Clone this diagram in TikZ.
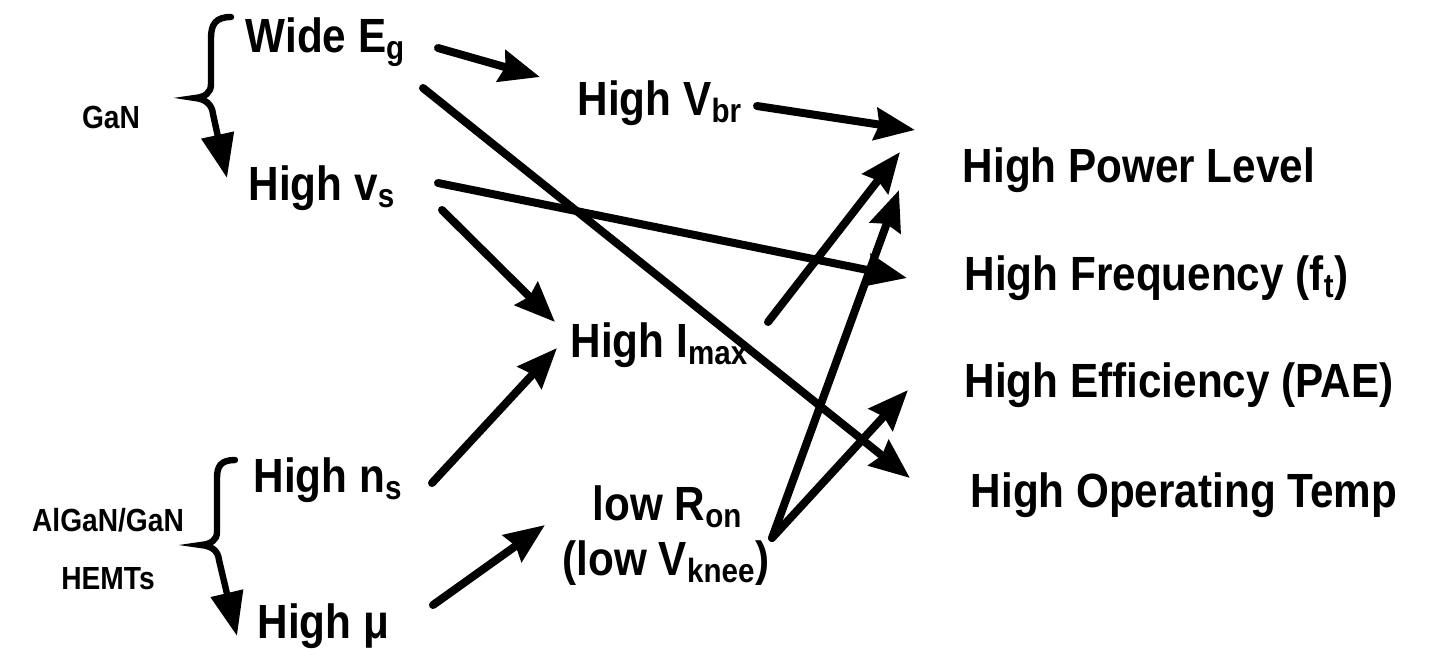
\documentclass[tikz,border=0pt]{standalone}
\usepackage{fontspec}
\setmainfont{Liberation Sans}[FakeStretch=0.88]
\usetikzlibrary{arrows.meta,calc}

\tikzset{every picture/.style={line width=0.75pt}}

\begin{document}
\begin{tikzpicture}[x=0.5pt,y=0.5pt,yscale=-1,xscale=1,
  lbl/.style={anchor=base west,inner sep=0pt,font=\fontsize{24}{28}\selectfont\bfseries},
  grp/.style={inner sep=0pt,align=center,font=\fontsize{16}{29}\selectfont\bfseries},
  arr/.style={line width=4pt,line cap=round,-{Stealth[length=20pt,width=16pt,inset=2pt]}},
  brc/.style={line width=3.2pt,line cap=round,-{Triangle[length=22pt,width=16pt]}}]
\path[use as bounding box] (0,0) rectangle (1441,655); %diagram is 1441 wide and 655 high

% Text Node
\draw (245,52) node [lbl] (wide) {Wide E\textsubscript{g}};
% Text Node
\draw (577,115) node [lbl] (vbr) {High V\textsubscript{br}};
% Text Node
\draw (248,200) node [lbl] (vs) {High v\textsubscript{s}};
% Text Node
\draw (570,357) node [lbl] (imax) {High I\textsubscript{max}};
% Text Node
\draw (253,492) node [lbl] (ns) {High n\textsubscript{s}};
% Text Node
\draw (257,638) node [lbl] (mu) {High μ};
% Text Node
\draw (592,520) node [lbl] (ron) {low R\textsubscript{on}};
% Text Node
\draw (562,575) node [lbl] (knee) {(low V\textsubscript{knee})};
% Text Node
\draw (962,182) node [lbl] (power) {High Power Level};
% Text Node
\draw (964,290) node [lbl] (freq) {High Frequency (f\textsubscript{t})};
% Text Node
\draw (964,397) node [lbl] (eff) {High Efficiency (PAE)};
% Text Node
\draw (970,507) node [lbl] (optemp) {High Operating Temp};
% Text Node
\draw (111,117) node [grp] (gan) {GaN};
% Text Node
\draw (108,549) node [grp] (hemt) {AlGaN/GaN\\HEMTs};

%Shape: Brace GaN
\draw [brc] (231,17) .. controls (216,17) and (211,24) .. (211,38) -- (211,84) .. controls (211,93) and (205,97) .. (195,98) .. controls (205,99) and (212,104) .. (213,114) -- (227,178) ;
%Shape: Brace AlGaN/GaN
\draw [brc] (235,460) .. controls (221,460) and (217,466) .. (217,478) -- (217,532) .. controls (217,540) and (211,544) .. (201,545) .. controls (211,546) and (218,550) .. (219,560) -- (237,636) ;

% Arrows
\draw [arr] ($(wide.base west)+(193,-4)$) -- ($(vbr.base west)+(-37,-38)$);
\draw [arr] ($(wide.base west)+(178,36)$) -- ($(optemp.base west)+(-60,-29)$);
\draw [arr] ($(vbr.base west)+(180,-9)$) -- ($(power.base west)+(-47,-52)$);
\draw [arr] ($(vs.base west)+(190,-17)$) -- ($(freq.base west)+(-57,-12)$);
\draw [arr] ($(vs.base west)+(194,10)$) -- ($(imax.base west)+(-15,-35)$);
\draw [arr] ($(imax.base west)+(198,-35)$) -- ($(power.base west)+(-62,-30)$);
\draw [arr] ($(ns.base west)+(179,-9)$) -- ($(imax.base west)+(-13,-9)$);
\draw [arr] ($(mu.base west)+(176,-33)$) -- ($(ron.base west)+(-47,5)$);
\draw [arr] ($(ron.base west)+(180,18)$) -- ($(power.base west)+(-63,8)$);
\draw [arr] ($(ron.base west)+(180,18)$) -- ($(eff.base west)+(-56,-7)$);

\end{tikzpicture}
\end{document}
